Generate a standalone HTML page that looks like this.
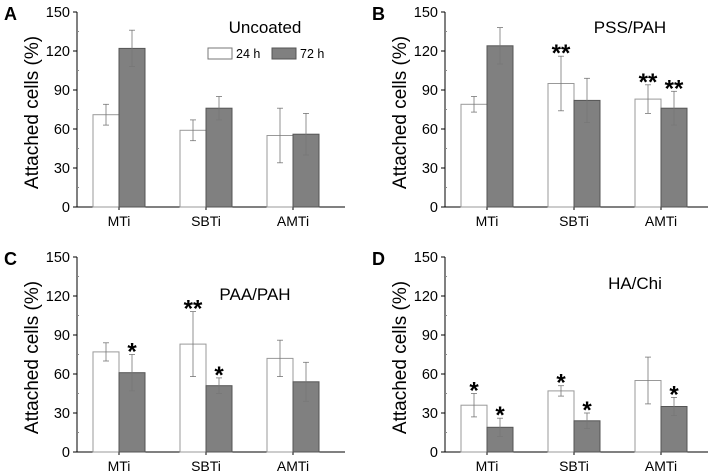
<!DOCTYPE html>
<html><head><meta charset="utf-8"><style>
html,body{margin:0;padding:0;background:#fff;}
svg{display:block;font-family:"Liberation Sans",Arial,sans-serif;}
</style></head><body>
<svg id="chart" width="708" height="472" viewBox="0 0 708 472"></svg>
<script>
const categories = ["MTi","SBTi","AMTi"];
const yTicks = [0,30,60,90,120,150];
const panelLetters = ["A","B","C","D"];
const panelTitles = ["Uncoated","PSS/PAH","PAA/PAH","HA/Chi"];
const v24 = [[71,59,55],[79,95,83],[77,83,72],[36,47,55]];
const e24 = [[8,8,21],[6,21,11],[7,25,14],[9,4,18]];
const v72 = [[122,76,56],[124,82,76],[61,51,54],[19,24,35]];
const e72 = [[14,9,16],[14,17,13],[14,6,15],[7,6,7]];
const s24 = [["","",""],["","**","**"],["","**",""],["*","*",""]];
const s72 = [["","",""],["","","**"],["*","*",""],["*","*","*"]];

const NS="http://www.w3.org/2000/svg";
const svg=document.getElementById("chart");
function mk(tag,attrs,parent,text){const e=document.createElementNS(NS,tag);for(const k in attrs)e.setAttribute(k,attrs[k]);if(text!==undefined)e.textContent=text;(parent||svg).appendChild(e);return e;}

const origins=[[77,207],[445,207],[77,452],[445,452]];
const titlePos=[[265,33],[630,33],[255,300],[635,289]];
const H=195, W=268, gap=87, barW=26;

for(let p=0;p<4;p++){
  const [ox,oy]=origins[p];
  const g=mk("g",{});
  
  
  const y=v=>oy-v/150*H;
  const xc=i=>ox+42+i*gap;
  const ax=mk("line",{x1:ox,y1:oy-H,x2:ox,y2:oy,stroke:"#000","stroke-width":1},g);
  
  const bx=mk("line",{x1:ox,y1:oy,x2:ox+W,y2:oy,stroke:"#000","stroke-width":1},g);
  
  yTicks.forEach(t=>{
    mk("line",{x1:ox-4,y1:y(t),x2:ox,y2:y(t),stroke:"#000"},g);
    const tl=mk("text",{x:ox-7,y:y(t)+5,"text-anchor":"end","font-size":14.5},g,String(t));
    
  });
  for(let t=15;t<150;t+=30) mk("line",{x1:ox,y1:y(t),x2:ox+2,y2:y(t),stroke:"#888"},g);
  const yl=mk("text",{x:0,y:0,transform:`translate(${ox-39},${oy-H/2+3}) rotate(-90)`,"text-anchor":"middle","font-size":19},g,"Attached cells (%)");
  
  const pl=mk("text",{x:ox-73,y:oy-H+8,"font-size":18,"font-weight":"bold"},g,panelLetters[p]);
  
  const tt=mk("text",{x:titlePos[p][0],y:titlePos[p][1],"text-anchor":"middle","font-size":17},g,panelTitles[p]);
  
  categories.forEach((c,i)=>{
    const cx=xc(i);
    mk("line",{x1:cx,y1:oy,x2:cx,y2:oy+3,stroke:"#000"},g);
    const cl=mk("text",{x:cx,y:oy+19,"text-anchor":"middle","font-size":14},g,c);
    
    [[v24,e24,s24,cx-barW,"#fff","#999"],[v72,e72,s72,cx,"#808080","#555"]].forEach(([V,E,S,x0,fill,st])=>{
      const v=V[p][i],e=E[p][i];
      const b=mk("rect",{x:x0,y:y(v),width:barW,height:oy-y(v),fill:fill,stroke:st,"stroke-width":1},g);
      
      const m=x0+barW/2;
      mk("line",{x1:m,y1:y(v+e),x2:m,y2:y(v-e),stroke:"#777","stroke-width":0.8},g);
      mk("line",{x1:m-3,y1:y(v+e),x2:m+3,y2:y(v+e),stroke:"#777","stroke-width":0.8},g);
      mk("line",{x1:m-3,y1:y(v-e),x2:m+3,y2:y(v-e),stroke:"#777","stroke-width":0.8},g);
      if(S[p][i]){
        const s=mk("text",{x:m,y:y(v+e)+5,"text-anchor":"middle","font-size":24,"font-weight":"bold"},g,S[p][i]);
        
      }
    });
  });
}
const lg=mk("g",{});

mk("rect",{x:208,y:48,width:24,height:11,fill:"#fff",stroke:"#777"},lg);
mk("text",{x:236,y:58,"font-size":12.5},lg,"24 h");
mk("rect",{x:272,y:48,width:24,height:11,fill:"#808080",stroke:"#555"},lg);
mk("text",{x:300,y:58,"font-size":12.5},lg,"72 h");
</script>
</body></html>
